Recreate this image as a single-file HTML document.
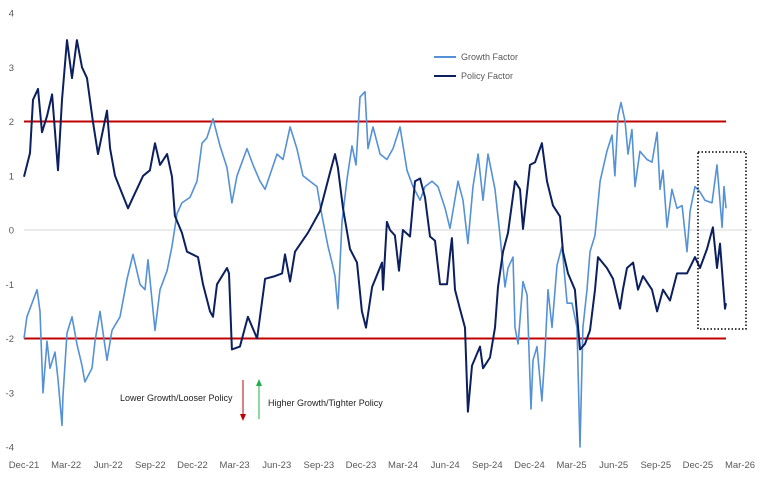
<!DOCTYPE html>
<html><head><meta charset="utf-8"><style>
html,body{margin:0;padding:0;background:#fff;}
svg{display:block;font-family:"Liberation Sans",sans-serif;}
</style></head><body>
<svg id="chart" width="768" height="481" viewBox="0 0 768 481">
<g id="axes"></g>
<g id="refs"></g>
<g id="series"></g>
<rect x="698" y="152" width="48" height="177" fill="none" stroke="#000" stroke-width="1.5" stroke-dasharray="1.5,2"/>
<g>
<line x1="434" y1="57" x2="456" y2="57" stroke="#5591d6" stroke-width="2"/>
<text x="461" y="60" font-size="9" fill="#595959">Growth Factor</text>
<line x1="434" y1="76" x2="456" y2="76" stroke="#0c1f5e" stroke-width="2"/>
<text x="461" y="79" font-size="9" fill="#595959">Policy Factor</text>
</g>
<g>
<text x="120" y="401" font-size="9" fill="#222">Lower Growth/Looser Policy</text>
<line x1="243" y1="380" x2="243" y2="415" stroke="#c00000" stroke-width="1"/>
<polygon points="240,414 246,414 243,421" fill="#c00000"/>
<line x1="259" y1="385" x2="259" y2="419" stroke="#1fb04a" stroke-width="1"/>
<polygon points="256,386 262,386 259,379" fill="#1fb04a"/>
<text x="268" y="406" font-size="9" fill="#222">Higher Growth/Tighter Policy</text>
</g>
</svg>
<script>
const xTickLabels=["Dec-21","Mar-22","Jun-22","Sep-22","Dec-22","Mar-23","Jun-23","Sep-23","Dec-23","Mar-24","Jun-24","Sep-24","Dec-24","Mar-25","Jun-25","Sep-25","Dec-25","Mar-26"];
const yTicks=[4,3,2,1,0,-1,-2,-3,-4];
const bands=[2,-2];
const policyT=[0,0.43,0.64,1.0,1.28,1.64,2.0,2.42,2.71,3.06,3.42,3.77,4.13,4.49,4.91,5.27,5.91,6.13,6.48,7.41,7.76,8.48,8.97,9.33,9.69,10.19,10.54,10.75,11.25,11.61,12.39,12.75,13.25,13.46,13.75,14.46,14.6,14.81,15.38,15.95,16.6,16.81,17.17,17.88,18.38,18.59,18.95,19.3,20.23,21.08,21.79,22.15,22.36,22.72,23.22,23.72,24.07,24.36,24.79,25.5,25.57,25.85,26.07,26.42,26.71,26.99,27.49,27.85,28.21,28.56,28.92,29.27,29.63,30.13,30.34,30.48,30.7,31.05,31.41,31.62,31.91,32.48,32.69,33.19,33.55,33.76,34.12,34.47,34.97,35.33,35.54,36.04,36.4,36.89,37.25,37.68,38.18,38.39,38.75,39.24,39.6,39.96,40.31,40.67,40.88,41.52,41.95,42.45,42.66,42.95,43.38,43.73,44.09,44.73,45.09,45.51,46.01,46.51,47.22,47.79,48.15,48.65,49.07,49.36,49.57,49.79,49.93,50.0];
const policyV=[0.98,1.42,2.4,2.6,1.8,2.1,2.5,1.1,2.4,3.5,2.8,3.5,3.0,2.8,2.0,1.4,2.2,1.5,1.0,0.4,0.6,1.0,1.1,1.6,1.2,1.4,0.98,0.26,-0.05,-0.4,-0.5,-1.0,-1.5,-1.6,-1.0,-0.7,-0.8,-2.2,-2.15,-1.6,-2.0,-1.6,-0.9,-0.85,-0.8,-0.45,-0.95,-0.4,-0.05,0.35,1.05,1.4,1.15,0.4,-0.35,-0.6,-1.5,-1.8,-1.05,-0.6,-1.1,0.15,0.0,-0.1,-0.75,0,-0.12,0.9,0.95,0.6,-0.12,-0.2,-1.0,-1.0,-0.45,-0.15,-1.1,-1.45,-1.8,-3.35,-2.5,-2.15,-2.55,-2.35,-1.8,-1.05,-0.4,-0.05,0.9,0.75,0.02,1.2,1.25,1.6,0.9,0.45,0.25,-0.4,-0.8,-1.1,-2.2,-2.1,-1.85,-1.1,-0.5,-0.7,-0.9,-1.45,-1.1,-0.7,-0.6,-1.1,-0.85,-1.1,-1.5,-1.1,-1.3,-0.8,-0.8,-0.5,-0.7,-0.35,0.05,-0.7,-0.25,-1.0,-1.45,-1.35];
const growthT=[0,0.21,0.57,0.93,1.14,1.35,1.64,1.85,2.21,2.42,2.71,2.78,3.06,3.42,3.77,4.13,4.34,4.84,5.06,5.41,5.91,6.27,6.84,7.34,7.76,8.26,8.62,8.83,9.33,9.69,10.19,10.54,10.9,11.25,11.82,12.32,12.68,13.03,13.46,13.96,14.46,14.81,15.17,15.53,15.88,16.31,16.81,17.17,18.02,18.45,18.95,19.44,19.87,20.37,20.87,21.23,21.65,21.94,22.15,22.36,22.65,23.01,23.36,23.65,23.93,24.29,24.5,24.86,25.36,25.85,26.28,26.78,27.28,27.71,28.21,28.56,29.06,29.49,29.99,30.34,30.91,31.27,31.62,31.98,32.34,32.69,33.05,33.55,33.9,34.26,34.47,34.83,34.97,35.19,35.54,35.83,36.11,36.25,36.54,36.89,37.11,37.32,37.61,37.96,38.32,38.68,39.03,39.39,39.6,39.81,40.1,40.31,40.67,41.03,41.52,41.88,42.09,42.31,42.52,42.81,43.02,43.3,43.52,43.87,44.37,44.73,45.09,45.3,45.51,45.8,46.15,46.51,46.87,47.22,47.44,47.79,48.15,48.5,49.0,49.36,49.72,49.86,50.0];
const growthV=[-2.0,-1.6,-1.35,-1.1,-1.5,-3.0,-2.05,-2.55,-2.25,-2.75,-3.6,-3.05,-1.9,-1.6,-2.1,-2.5,-2.8,-2.55,-2.05,-1.5,-2.4,-1.85,-1.6,-0.9,-0.45,-1.0,-1.1,-0.55,-1.85,-1.1,-0.75,-0.3,0.3,0.5,0.6,0.9,1.6,1.7,2.05,1.55,1.15,0.5,1.0,1.25,1.5,1.2,0.9,0.75,1.4,1.3,1.9,1.5,1.0,0.9,0.8,0.25,-0.3,-0.6,-0.85,-1.45,0.15,0.95,1.55,1.2,2.45,2.55,1.5,1.9,1.4,1.3,1.5,1.9,1.1,0.8,0.55,0.8,0.9,0.8,0.4,0.03,0.9,0.55,-0.25,0.8,1.4,0.55,1.4,0.75,-0.1,-1.05,-0.7,-0.5,-1.8,-2.1,-0.95,-1.2,-3.3,-2.4,-2.15,-3.15,-2.25,-1.1,-1.8,-0.65,-0.3,-1.35,-1.35,-1.8,-4.0,-1.8,-1.1,-0.4,-0.1,0.9,1.45,1.75,1.0,2.1,2.35,2.0,1.4,1.85,0.8,1.45,1.3,1.25,1.8,0.75,1.1,0.05,0.75,0.4,0.45,-0.4,0.35,0.8,0.7,0.55,0.5,1.2,0.05,0.8,0.4];

const NS="http://www.w3.org/2000/svg";
function xPos(m){return 24+m*14.04;}
function yPos(v){return 230-v*54.25;}
function mk(tag,attrs,parent){const e=document.createElementNS(NS,tag);for(const k in attrs)e.setAttribute(k,attrs[k]);parent.appendChild(e);return e;}
const axes=document.getElementById('axes');
yTicks.forEach(v=>{
  const t=mk('text',{x:14,y:yPos(v)+3.5,'text-anchor':'end','font-size':'9.5',fill:'#595959'},axes);
  t.textContent=v;
  
  
});
const zl=mk('line',{x1:24,x2:752,y1:yPos(0),y2:yPos(0),stroke:'#d9d9d9','stroke-width':1},axes);


xTickLabels.forEach((s,i)=>{
  const t=mk('text',{x:xPos(i*3),y:468,'text-anchor':'middle','font-size':'9.5',fill:'#595959'},axes);
  t.textContent=s;
  
  
});
const refs=document.getElementById('refs');
bands.forEach(b=>{
  const l=mk('line',{x1:24,x2:726,y1:yPos(b),y2:yPos(b),stroke:'#c00000','stroke-width':2},refs);
  
  
});
const ser=document.getElementById('series');
function path(T,V){return T.map((t,i)=>(i?'L':'M')+xPos(t).toFixed(1)+','+yPos(V[i]).toFixed(1)).join(' ');}
const g=mk('path',{d:path(growthT,growthV),fill:'none',stroke:'#5591d6','stroke-width':1.6,'stroke-linejoin':'round'},ser);


const p=mk('path',{d:path(policyT,policyV),fill:'none',stroke:'#0c1f5e','stroke-width':2,'stroke-linejoin':'round'},ser);


</script>
</body></html>
